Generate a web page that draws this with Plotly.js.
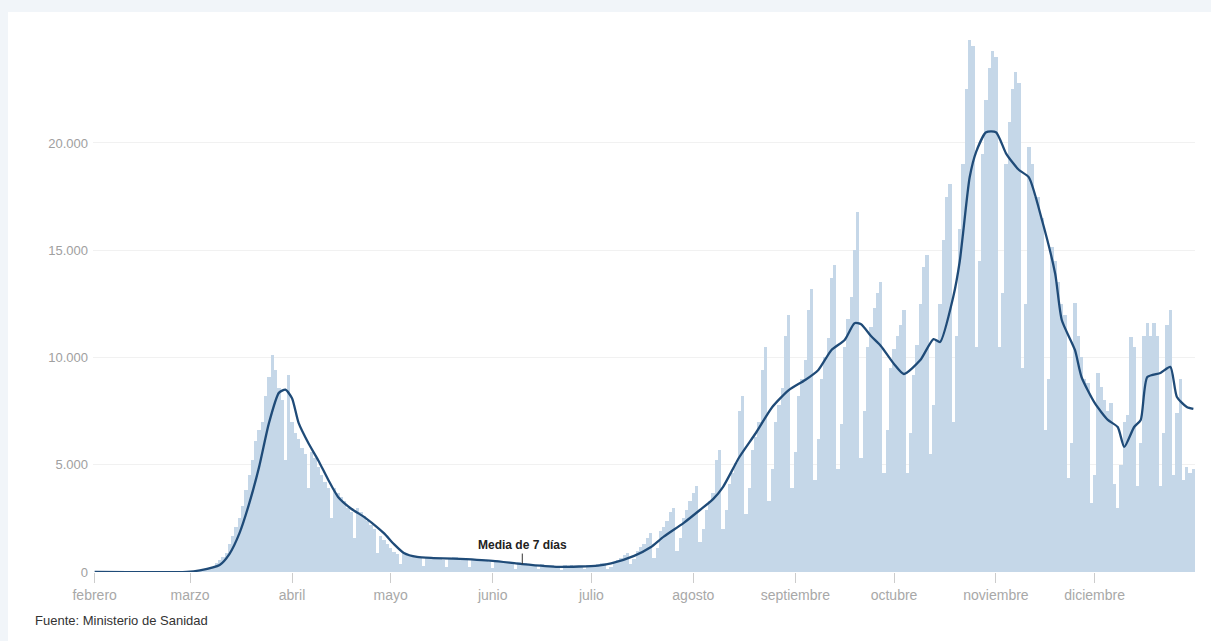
<!DOCTYPE html>
<html>
<head>
<meta charset="utf-8">
<script src="https://cdn.plot.ly/plotly-3.0.1.min.js"></script>
<style>
  html, body { margin: 0; padding: 0; background: #f1f5f9; overflow: hidden; }
  #chart { position: absolute; left: 8px; top: 12px; width: 1203px; height: 629px; background: #ffffff; }
</style>
</head>
<body>
<div id="chart"></div>
<script>
// Daily new cases (one value per day, by month)
const febrero    = [0,0,0,0,0,0,0,0,1,0,0,0,0,0,0,0,0,0,0,0,0,0,0,0,2,3,5,7,12];
const marzo      = [15,30,40,60,90,130,180,250,400,550,700,900,1300,1700,2100,2500,3100,3800,4500,5200,6100,6600,7000,8200,9100,10100,9400,8600,8000,5200,9200];
const abril      = [7000,6500,6200,5800,5500,3900,5600,5300,4900,4500,4200,3900,2500,3900,3700,3500,3300,3000,2800,1600,3000,2800,2600,2400,2200,2000,900,1700,1500,1300];
const mayo       = [1100,950,850,350,900,850,800,750,700,650,300,700,680,650,650,600,550,250,650,700,680,650,600,550,250,600,620,600,560,500,450];
const junio      = [200,550,520,500,480,420,380,150,450,420,400,380,330,300,120,350,340,330,320,280,250,110,320,300,310,300,270,240,120,330];
const julio      = [300,330,350,400,420,150,250,450,550,650,800,900,350,600,1000,1150,1300,1600,1800,650,1100,1900,2100,2400,2800,3000,1000,1600,2500,2900,3300];
const agosto     = [3700,4000,1400,2000,2900,3300,3700, 5200,5700,2000,2900,4100,4600,5100, 7500,8200,2700,3900,5700,6300,7000, 9400,10500,3300,4800,7000,7800,8600, 11000,12000,3900];
const septiembre = [5600,8200,9000,9900, 12200,13200,4300,6200,9000,10000,10900, 13700,14300,4800,6900,10500,11800,12800, 15000,16800,5300,7500,10500,11400,12300, 13000,13500,4600,6600,9500];
const octubre    = [10400,11000, 11500,12200,4600,6500,9200,10600,12500, 14200,14800,5500,7800,10800,12500,15500, 17500,18100,7000,11000,16000,19000,22500, 24800,24500,10500,14500,19500,22000,23500, 24300];
const noviembre  = [24000,10500,13000,19000,21000,22500, 23300,22800,9500,12500,19800,19000,17500, 17500,16500,6600,9000,15150,14500,13500, 12500,12000,4400,6000,12540,11000,10000, 9000,8800,3200];
const diciembre  = [4500,9280,8620,8000, 7500,7880,4100,3000,5000,7000,7300, 10950,10500,4000,6000,11000,11600,11000, 11600,11000,4000,6500,11500,12200,4500, 7400,9000,4300,4900,4600,4800];

// 7-day average at these dates
const mediaFechas = ['2020-02-01','2020-02-29','2020-03-04','2020-03-10','2020-03-13','2020-03-16','2020-03-19','2020-03-22','2020-03-25','2020-03-28','2020-03-30','2020-04-01','2020-04-03','2020-04-06','2020-04-09','2020-04-12','2020-04-15','2020-04-19','2020-04-23','2020-04-26','2020-04-29','2020-05-02','2020-05-05','2020-05-09','2020-05-14','2020-05-20','2020-06-01','2020-06-10','2020-06-21','2020-07-03','2020-07-07','2020-07-14','2020-07-19','2020-07-23','2020-07-29','2020-08-03','2020-08-07','2020-08-10','2020-08-15','2020-08-20','2020-08-25','2020-08-30','2020-09-04','2020-09-08','2020-09-12','2020-09-16','2020-09-19','2020-09-21','2020-09-24','2020-09-27','2020-10-01','2020-10-04','2020-10-09','2020-10-13','2020-10-15','2020-10-19','2020-10-21','2020-10-22','2020-10-24','2020-10-26','2020-10-29','2020-11-01','2020-11-04','2020-11-06','2020-11-08','2020-11-11','2020-11-15','2020-11-19','2020-11-21','2020-11-25','2020-11-27','2020-12-01','2020-12-05','2020-12-08','2020-12-10','2020-12-13','2020-12-15','2020-12-17','2020-12-21','2020-12-24','2020-12-26','2020-12-29','2020-12-31'];
const mediaValores = [0,5,80,330,850,1800,3200,4900,6950,8350,8500,8100,6950,6000,5200,4300,3500,2950,2560,2200,1800,1300,890,700,650,620,520,370,240,300,400,750,1150,1650,2280,2890,3400,3960,5360,6480,7690,8480,8950,9420,10350,10820,11600,11550,11000,10540,9700,9230,9880,10860,10720,12820,14500,15800,18400,19600,20500,20500,19530,19100,18740,18400,16400,13900,11750,10350,9090,7880,7090,6760,5830,6760,7090,9090,9280,9560,8160,7690,7600];

// Axis ticks
const mesesFechas = ['2020-02-01','2020-03-01','2020-04-01','2020-05-01','2020-06-01','2020-07-01','2020-08-01','2020-09-01','2020-10-01','2020-11-01','2020-12-01'];
const mesesEtiquetas = ['febrero','marzo','abril','mayo','junio','julio','agosto','septiembre','octubre','noviembre','diciembre'];
const yTicks = [0, 5000, 10000, 15000, 20000];
const yEtiquetas = ['0','5.000','10.000','15.000','20.000'];

// Build daily dates
const casos = [].concat(febrero, marzo, abril, mayo, junio, julio, agosto, septiembre, octubre, noviembre, diciembre);
const fechas = [];
const start = Date.UTC(2020, 1, 1);
for (let i = 0; i < casos.length; i++) {
  const d = new Date(start + i * 86400000);
  fechas.push(d.toISOString().slice(0, 10));
}

const FONT = '"Liberation Sans", Arial, sans-serif';

const traces = [
  {
    type: 'bar', x: fechas, y: casos,
    marker: { color: '#c5d7e8', line: { width: 0 } },
    hoverinfo: 'skip', showlegend: false
  },
  {
    type: 'scatter', mode: 'lines', x: mediaFechas, y: mediaValores,
    line: { color: '#1f4b78', width: 2.3, shape: 'spline', smoothing: 0.6 },
    hoverinfo: 'skip', showlegend: false
  }
];

const layout = {
  width: 1203, height: 629,
  margin: { l: 85, r: 16, t: 13, b: 69 },
  paper_bgcolor: '#ffffff', plot_bgcolor: '#ffffff',
  bargap: 0,
  showlegend: false,
  font: { family: FONT, color: '#999999', size: 14 },
  xaxis: {
    type: 'date',
    range: ['2020-01-31 12:00', '2020-12-31 12:00'],
    tickvals: mesesFechas, ticktext: mesesEtiquetas,
    ticks: 'outside', ticklen: 10, tickcolor: '#cccccc', tickwidth: 1,
    tickfont: { family: FONT, size: 14, color: '#a8a8a8' },
    showgrid: false, zeroline: false, showline: false, fixedrange: true
  },
  yaxis: {
    range: [0, 25500],
    tickvals: yTicks, ticktext: yEtiquetas,
    ticks: '', showline: false, zeroline: false,
    showgrid: true, gridcolor: '#f1f1f1', gridwidth: 1,
    tickfont: { family: FONT, size: 13, color: '#a0a0a0' },
    ticklabelstandoff: 4, fixedrange: true
  },
  annotations: [
    {
      x: '2020-06-10', y: 370, xref: 'x', yref: 'y',
      text: '<b>Media de 7 días</b>', showarrow: true,
      arrowhead: 0, arrowwidth: 1, arrowcolor: '#333333',
      ax: 0, ay: -19,
      font: { family: FONT, size: 12, color: '#222222' }
    },
    {
      x: -0.0544, y: -0.0878, xref: 'paper', yref: 'paper',
      xanchor: 'left', yanchor: 'middle',
      text: 'Fuente: Ministerio de Sanidad', showarrow: false,
      font: { family: FONT, size: 13, color: '#333333' }
    }
  ]
};

Plotly.newPlot('chart', traces, layout, { displayModeBar: false, staticPlot: true });
</script>
</body>
</html>
